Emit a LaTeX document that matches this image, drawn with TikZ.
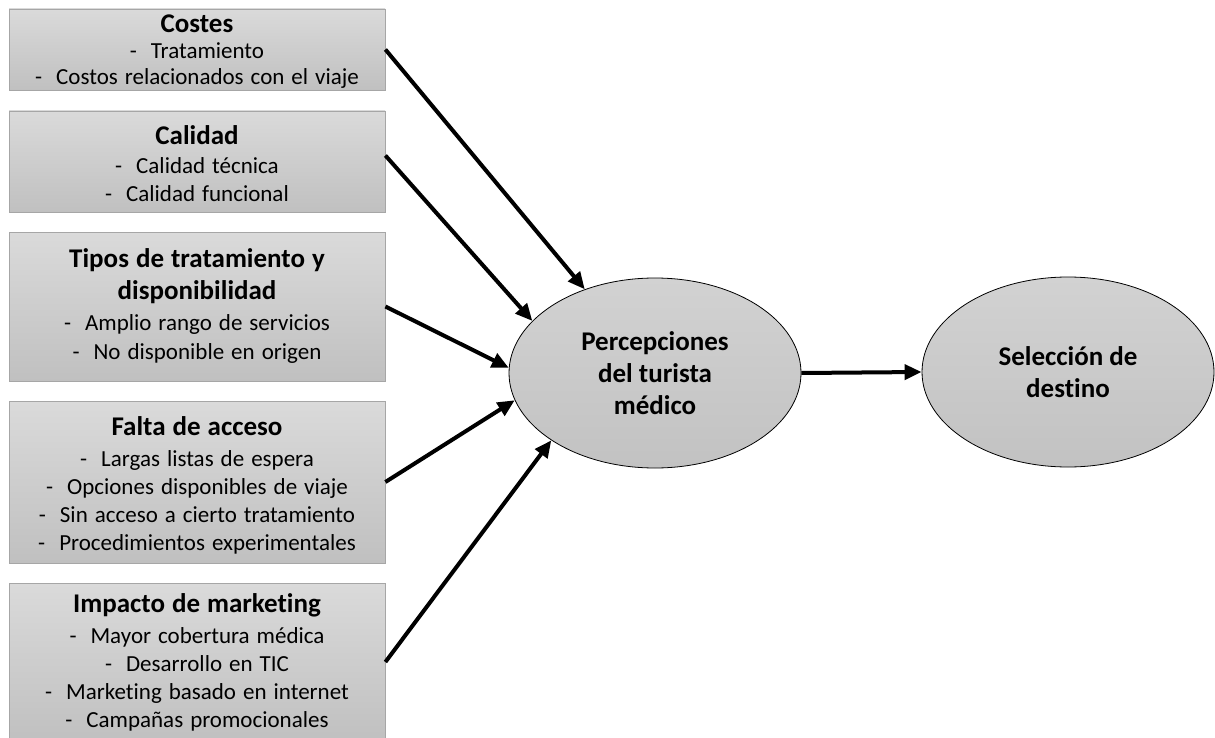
\documentclass[tikz,border=0pt]{standalone}
\usepackage{fontspec}
\setmainfont{Carlito}[Ligatures=NoCommon]
\usetikzlibrary{shapes.geometric,arrows.meta}

\definecolor{boxtop}{HTML}{DADADA}
\definecolor{boxbot}{HTML}{C0C0C0}
\definecolor{boxline}{HTML}{A6A6A6}
\definecolor{elltop}{HTML}{D2D2D2}
\definecolor{ellbot}{HTML}{C2C2C2}

% text of the factor boxes: bold heading and dashed bullet lines
\newcommand\bodyfont{\fontsize{23}{28}\selectfont\spaceskip=7pt plus 2pt minus 1pt\relax}
\newcommand\factitle[1]{{\fontsize{27}{32}\selectfont\bfseries #1}}
\newcommand\fline[1]{-\hspace{14pt}#1}

\begin{document}
\begin{tikzpicture}[x=1pt,y=-1pt,
  factor/.style={rectangle, draw=boxline, line width=0.8pt,
    top color=boxtop, bottom color=boxbot,
    minimum width=376pt, inner sep=0pt, align=center,
    font=\bodyfont},
  concept/.style={ellipse, draw=black, line width=0.8pt,
    top color=elltop, bottom color=ellbot,
    minimum width=292pt, minimum height=190pt, inner sep=0pt,
    align=center, font=\fontsize{27}{32}\selectfont\bfseries},
  link/.style={line width=4pt, -{Triangle[length=17pt,width=15pt]}}
]
\clip (0,0) rectangle (1215,738);
\useasboundingbox (0,0) rectangle (1215,738);

% factor boxes on the left
\node[factor, minimum height=81pt] (costes) at (197,49.5)
  {\rule{0pt}{21pt}\factitle{Costes}\\[-2pt]
   \fline{Tratamiento}\\[-2pt]
   \fline{Costos relacionados con el viaje}};
\node[factor, minimum height=101pt] (calidad) at (197,161.5)
  {\rule{0pt}{24pt}\factitle{Calidad}\\[1pt]
   \fline{Calidad técnica}\\
   \fline{Calidad funcional}};
\node[factor, minimum height=149pt] (tipos) at (197,306.5)
  {\factitle{Tipos de tratamiento y}\\[4pt]
   \factitle{disponibilidad}\\[3pt]
   \fline{Amplio rango de servicios}\\[1pt]
   \fline{No disponible en origen}};
\node[factor, minimum height=162pt] (acceso) at (197,482)
  {\rule{0pt}{26pt}\factitle{Falta de acceso}\\[3pt]
   \fline{Largas listas de espera}\\
   \fline{Opciones disponibles de viaje}\\
   \fline{Sin acceso a cierto tratamiento}\\
   \fline{Procedimientos experimentales}};
\node[factor, minimum height=158pt] (marketing) at (197,662)
  {\factitle{Impacto de marketing}\\[3pt]
   \fline{Mayor cobertura médica}\\
   \fline{Desarrollo en TIC}\\
   \fline{Marketing basado en internet}\\
   \fline{Campañas promocionales}};

% perception and destination ellipses
\node[concept] (percep) at (655,373) {Percepciones\\del turista\\médico};
\node[concept] (destino) at (1068,372) {Selección de\\destino};

% influence arrows
\draw[link] (costes.east) -- (percep.130.5);
\draw[link] ([yshift=6pt]calidad.east) -- (percep.157.8);
\draw[link] (tipos.east) -- (percep.178.8);
\draw[link] (acceso.east) -- (percep.191.3);
\draw[link] (marketing.east) -- (percep.213.8);
\draw[link] (percep.east) -- (destino.west);
\end{tikzpicture}
\end{document}
